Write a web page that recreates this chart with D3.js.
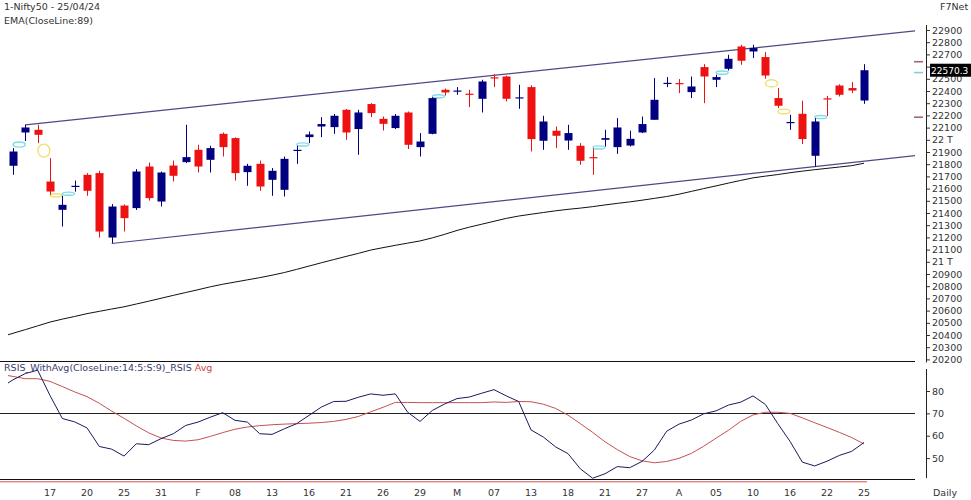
<!DOCTYPE html>
<html><head><meta charset="utf-8">
<script src="https://cdn.jsdelivr.net/npm/d3@7"></script>
<style>
body{margin:0;background:#fff;}
svg{display:block;font-family:"DejaVu Sans",Verdana,sans-serif;}
</style></head><body>
<svg id="c" width="971" height="500"></svg>
<script>
// ---------- data ----------
const opens = [21787,22060,22082,21658,21426,21618,21713,21727,21199,21461,
  21440,21781,21494,21789,21817,21918,21836,22049,22014,21735,
  21803,21672,21590,21912,22022,22109,22104,22246,22088,22293,
  22172,22096,22224,21940,22049,22410,22400,22378,22336,22512,
  22519,22344,22432,21992,22074,21994,21951,21858,22000,21940,
  21953,22060,22164,22462,22465,22391,22596,22492,22582,22765,
  22724,22678,22342,22138,22213,21869,22340,22445,22424,22322];
const highs = [21932,22123,22123,21850,21541,21666,21727,21746,21473,21470,
  21760,21814,21740,21830,22123,21959,21951,22060,22020,21803,
  21830,21768,21863,21951,22068,22186,22211,22252,22246,22301,
  22191,22211,22232,22055,22350,22420,22432,22410,22492,22538,
  22526,22451,22447,22197,22109,22123,21973,21930,22082,22178,
  22075,22191,22506,22514,22498,22519,22620,22533,22697,22779,
  22779,22719,22424,22205,22320,22178,22360,22455,22473,22620];
const lows = [21713,21990,21973,21549,21289,21575,21541,21199,21153,21248,
  21425,21502,21453,21658,21809,21732,21732,21863,21666,21623,
  21582,21541,21535,21803,21973,22022,22049,22000,21877,22186,
  22076,22088,21924,21863,22045,22362,22369,22268,22224,22432,
  22314,22254,21904,21918,21932,21918,21795,21713,21945,21885,
  21945,22055,22164,22432,22383,22342,22300,22432,22568,22615,
  22670,22500,22260,22082,21965,21781,22195,22355,22383,22295];
const closes = [21904,22101,22041,21576,21467,21623,21582,21248,21453,21358,
  21740,21522,21732,21705,21858,21781,21932,21940,21727,21787,
  21617,21746,21844,21918,22044,22129,22197,22060,22224,22219,
  22131,22197,21959,21986,22342,22388,22404,22372,22478,22508,
  22336,22348,22006,22150,22033,22055,21828,21853,22014,22101,
  22008,22129,22328,22467,22460,22437,22519,22514,22664,22648,
  22752,22527,22279,22146,22006,22150,22336,22369,22404,22570.3];
// line series start one bar before the first visible candle
const lineStartIndex = -1;
const ema89 = [20384,20414,20444,20475,20506,20530,20552,20575,20594,20613,
  20631,20654,20677,20701,20725,20748,20771,20795,20816,20834,
  20852,20870,20890,20912,20938,20965,20992,21018,21044,21069,
  21096,21116,21135,21153,21171,21196,21225,21257,21284,21308,
  21332,21356,21375,21390,21404,21418,21430,21440,21452,21466,
  21479,21491,21505,21520,21535,21554,21577,21600,21622,21645,
  21667,21688,21702,21715,21730,21743,21755,21766,21777,21788,21808];
const rsis = [81.5,85,87.8,89.3,78,67.7,66.2,63.5,55.2,54,
  50.9,56.4,56.0,58.7,60.9,64.6,66.1,68.3,70.3,66.9,
  66.1,60.9,60.6,63.1,65.4,69.1,72.8,75.3,75.4,77.2,
  78.7,78.1,78.7,70.5,66.4,71.3,74.2,76.6,77.3,79.0,
  80.6,77.8,75.3,62.6,59.4,55.0,52.0,45.2,41.0,43.0,
  46.2,45.7,48.5,53.6,62.0,65.2,67.0,69.8,71.1,73.7,
  75.0,77.8,74.0,65.5,57.5,48.2,46.5,48.6,51.2,53.0,57.0];
const rsisAvg = [87.5,86.5,85.5,85.5,84.3,82.0,79.6,77.5,74.5,71.0,
  67.8,64.4,61.3,59.0,57.9,57.6,58.2,59.7,61.4,62.9,
  63.9,64.5,64.9,65.2,65.4,65.6,65.9,66.4,67.3,68.6,
  70.7,72.7,74.9,74.9,74.8,74.8,74.8,74.8,74.8,74.8,
  75.1,74.9,75.3,75.2,74.1,72.2,69.2,65.4,61.5,57.3,
  53.8,50.7,48.8,47.9,48.5,49.9,52.1,55.3,58.9,62.4,
  66.4,69.3,70.5,70.5,70.0,68.0,65.8,63.7,61.5,59.2,56.3];
const priceTickValues = [20200,20300,20400,20500,20600,20700,20800,20900,21000,21100,21200,21300,21400,21500,
  21600,21700,21800,21900,22000,22100,22200,22300,22400,22500,22600,22700,22800,22900];
const priceTickLabels = ["20200","20300","20400","20500","20600","20700","20800","20900","21 T","21100","21200","21300","21400","21500",
  "21600","21700","21800","21900","22 T","22100","22200","22300","22400","22500","22600","22700","22800","22900"];
const rsiTickValues = [50,60,70,80];
const xTickIndex = [3,6,9,12,15,18,21,24,27,30,33,36,39,42,45,48,51,54,57,60,63,66,69];
const xTickLabels = ["17","20","25","31","F","08","13","16","21","26","29","M","07","13","18","21","27","A","05","10","16","22","25"];
const upperChannel = [[1,22123],[74.05,22902]];
const lowerChannel = [[8,21150],[74.05,21881]];
const levelMarks = [22640,22551,22185];
const rsiLevel = 70;

// ---------- scales ----------
const svg = d3.select("#c");
const x = d3.scaleLinear().domain([0,69]).range([13,864]);
const yP = d3.scaleLinear().domain([20200,22900]).range([359.4,30]);
const yR = d3.scaleLinear().domain([50,80]).range([458.1,391]);
const AX = 926;

const defs = svg.append("defs");
defs.append("clipPath").attr("id","cp").append("rect").attr("x",8).attr("y",0).attr("width",907).attr("height",360);
defs.append("clipPath").attr("id","cr").append("rect").attr("x",8).attr("y",361).attr("width",907).attr("height",119);

// ---------- price panel ----------
const gP = svg.append("g").attr("clip-path","url(#cp)");
const lineIdx = (arr)=>arr.map((v,k)=>[k+lineStartIndex,v]);

gP.append("path").datum(lineIdx(ema89))
  .attr("d", d3.line().x(d=>x(d[0])).y(d=>yP(d[1])))
  .attr("fill","none").attr("stroke","#111").attr("stroke-width",1);

[upperChannel, lowerChannel].forEach(c=>{
  gP.append("line").attr("x1",x(c[0][0])).attr("y1",yP(c[0][1]))
    .attr("x2",x(c[1][0])).attr("y2",yP(c[1][1]))
    .attr("stroke","#4a4a86").attr("stroke-width",1.2);
});

const gaps = [];
for (let i=0;i<opens.length-1;i++){
  if (lows[i+1] > highs[i]) gaps.push({i, lo:highs[i], hi:lows[i+1], up:true});
  else if (highs[i+1] < lows[i]) gaps.push({i, lo:highs[i+1], hi:lows[i], up:false});
}
gP.selectAll("ellipse.gap").data(gaps).join("ellipse")
  .attr("cx",d=>(x(d.i)+x(d.i+1))/2)
  .attr("cy",d=>(yP(d.lo)+yP(d.hi))/2)
  .attr("rx",6)
  .attr("ry",d=>Math.max(1.6,(yP(d.lo)-yP(d.hi))/2-1))
  .attr("fill","none")
  .attr("stroke",d=>d.up?"#7fdde8":"#eee070")
  .attr("stroke-width",1.4);

const up = i => closes[i] >= opens[i];
const colUp = "#000080", colDn = "#ee1111";
const idx = d3.range(opens.length);
gP.selectAll("line.wick").data(idx).join("line")
  .attr("x1",i=>Math.round(x(i))+0.5).attr("x2",i=>Math.round(x(i))+0.5)
  .attr("y1",i=>yP(highs[i])).attr("y2",i=>yP(lows[i]))
  .attr("stroke",i=>up(i)?colUp:colDn).attr("stroke-width",1);
gP.selectAll("rect.body").data(idx).join("rect")
  .attr("x",i=>Math.round(x(i))-3.5).attr("width",8)
  .attr("y",i=>yP(Math.max(opens[i],closes[i])))
  .attr("height",i=>Math.max(1.2,Math.abs(yP(opens[i])-yP(closes[i]))))
  .attr("fill",i=>up(i)?colUp:colDn);

const markCols = ["#9a6680","#88ccdd","#9a6680"];
svg.selectAll("line.lvl").data(levelMarks).join("line")
  .attr("x1",914).attr("x2",923).attr("y1",d=>yP(d)).attr("y2",d=>yP(d))
  .attr("stroke",(d,i)=>markCols[i]).attr("stroke-width",1.6);

// price axis
const lastC = closes[closes.length-1];
const boxTop = yP(lastC)-6.5, boxBot = yP(lastC)+6.5;
const axP = svg.append("g").attr("transform",`translate(${AX},0)`)
  .call(d3.axisRight(yP).tickValues(priceTickValues).tickFormat((d,i)=>priceTickLabels[i]).tickSize(4).tickPadding(2).tickSizeOuter(0));
axP.select(".domain").remove();
axP.selectAll("text").attr("font-size","9.5px").attr("fill","#333").attr("font-family","DejaVu Sans, Verdana, sans-serif");
axP.selectAll(".tick line").attr("stroke","#333");
// tick label covered by the last-price box is hidden, as in the reference
axP.selectAll(".tick").filter(d=>yP(d)>boxTop && yP(d)<boxBot).select("text").remove();
svg.append("line").attr("x1",AX+0.5).attr("x2",AX+0.5).attr("y1",25).attr("y2",yP(20200)+3).attr("stroke","#222");

svg.append("rect").attr("x",930).attr("y",boxTop).attr("width",41).attr("height",13).attr("fill","#000");
svg.append("text").attr("x",931).attr("y",yP(lastC)+3.5).attr("fill","#fff").attr("font-size","9px").text(d3.format(".1f")(lastC));

// ---------- RSI panel ----------
svg.append("line").attr("x1",0).attr("x2",915).attr("y1",361.5).attr("y2",361.5).attr("stroke","#111");
svg.append("line").attr("x1",0).attr("x2",915).attr("y1",Math.round(yR(rsiLevel))+0.5).attr("y2",Math.round(yR(rsiLevel))+0.5).attr("stroke","#222");
svg.append("line").attr("x1",0).attr("x2",915).attr("y1",479.5).attr("y2",479.5).attr("stroke","#111");
svg.append("line").attr("x1",0).attr("x2",x(69)+3).attr("y1",481.8).attr("y2",481.8).attr("stroke","#d05050");

const gR = svg.append("g").attr("clip-path","url(#cr)");
gR.append("path").datum(lineIdx(rsisAvg))
  .attr("d", d3.line().x(d=>x(d[0])).y(d=>yR(d[1])))
  .attr("fill","none").attr("stroke","#c85050").attr("stroke-width",1);
gR.append("path").datum(lineIdx(rsis))
  .attr("d", d3.line().x(d=>x(d[0])).y(d=>yR(d[1])))
  .attr("fill","none").attr("stroke","#1a1a5a").attr("stroke-width",1);

const axR = svg.append("g").attr("transform",`translate(${AX},0)`)
  .call(d3.axisRight(yR).tickValues(rsiTickValues).tickSize(4).tickPadding(2).tickSizeOuter(0));
axR.select(".domain").remove();
axR.selectAll("text").attr("font-size","9.5px").attr("fill","#333").attr("font-family","DejaVu Sans, Verdana, sans-serif");
axR.selectAll(".tick line").attr("stroke","#333");
svg.append("line").attr("x1",AX+0.5).attr("x2",AX+0.5).attr("y1",369).attr("y2",478).attr("stroke","#222");

svg.selectAll("text.xl").data(xTickIndex).join("text")
  .attr("x",i=>x(i)).attr("y",496).attr("text-anchor","middle")
  .attr("font-size","9.5px").attr("fill","#333").text((d,k)=>xTickLabels[k]);
svg.append("text").attr("x",933).attr("y",496).attr("font-size","9.5px").attr("fill","#333").text("Daily");

svg.append("text").attr("x",4).attr("y",10).attr("font-size","9.5px").attr("fill","#333").text("1-Nifty50 - 25/04/24");
svg.append("text").attr("x",4).attr("y",24).attr("font-size","9.5px").attr("fill","#333").text("EMA(CloseLine:89)");
svg.append("text").attr("x",940).attr("y",10).attr("font-size","9.5px").attr("fill","#333").text("F7Net");
const rt = svg.append("text").attr("x",4).attr("y",371).attr("font-size","9.5px");
rt.append("tspan").attr("fill","#3a3a70").text("RSIS_WithAvg(CloseLine:14:5:S:9)_RSIS ");
rt.append("tspan").attr("fill","#d04545").text("Avg");
</script>
</body></html>
